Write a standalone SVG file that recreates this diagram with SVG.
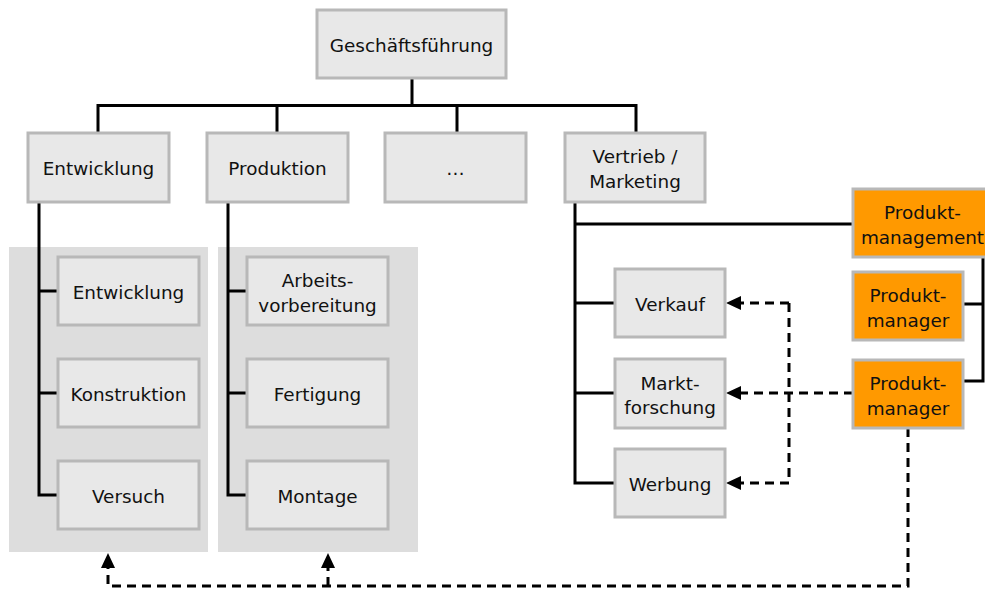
<svg xmlns="http://www.w3.org/2000/svg" width="985" height="591" viewBox="0 0 985 591">
  <style>
    .box { fill: #e8e8e8; stroke: #b8b8b8; stroke-width: 3; }
    .hot { fill: #ff9900; stroke: #b8b8b8; stroke-width: 3; }
    .panel { fill: #dddddd; }
    .lbl { font-family: "DejaVu Sans", Verdana, sans-serif; font-size: 18.4px; fill: #111; text-anchor: middle; }
    .solid { fill: none; stroke: #000; stroke-width: 3; }
    .dash { fill: none; stroke: #000; stroke-width: 3; stroke-dasharray: 9 6; }
  </style>
  <defs>
    <marker id="tri" viewBox="0 0 15 14" refX="0" refY="7" markerWidth="15" markerHeight="14" markerUnits="userSpaceOnUse" orient="auto">
      <path d="M0,0 L15,7 L0,14 Z" fill="#000"/>
    </marker>
  </defs>

  <rect width="985" height="591" fill="#fff"/>

  <!-- background panels behind department sub-units -->
  <rect class="panel" x="9" y="247" width="199" height="305"/>
  <rect class="panel" x="218" y="247" width="200" height="305"/>

  <!-- connectors -->
  <g id="connectors">
    <path class="solid" d="M412,78 V105.5 M98,133 V105.5 H636 V133 M277,105.5 V133 M457,105.5 V133"/>
    <path class="solid" d="M39,202 V495 H58 M39,291 H58 M39,393 H58"/>
    <path class="solid" d="M228,202 V495 H247 M228,291 H247 M228,393 H247"/>
    <path class="solid" d="M575,201 V483 H615 M575,224 H853 M575,303 H615 M575,393 H615"/>
    <path class="solid" d="M983,257 V381 H963 M983,304 H963"/>
    <path class="dash" d="M853,393 H741" marker-end="url(#tri)"/>
    <path class="dash" d="M789,303 V483"/>
    <path class="dash" d="M789,303 H741" marker-end="url(#tri)"/>
    <path class="dash" d="M789,483 H741" marker-end="url(#tri)"/>
    <path class="dash" d="M908,428 V586 H108 V568" marker-end="url(#tri)"/>
    <path class="dash" d="M328,586 V568" marker-end="url(#tri)"/>
  </g>

  <g id="geschaeftsfuehrung">
    <rect class="box" x="317" y="10" width="189" height="68"/>
    <text class="lbl" x="411.5" y="52">Geschäftsführung</text>
  </g>

  <g id="entwicklung">
    <rect class="box" x="28" y="133" width="141" height="69"/>
    <text class="lbl" x="98.5" y="175">Entwicklung</text>
  </g>
  <g id="produktion">
    <rect class="box" x="207" y="133" width="141" height="69"/>
    <text class="lbl" x="277.5" y="175">Produktion</text>
  </g>
  <g id="weitere">
    <rect class="box" x="385" y="133" width="141" height="69"/>
    <text class="lbl" x="455.5" y="175">…</text>
  </g>
  <g id="vertrieb">
    <rect class="box" x="565" y="133" width="140" height="69"/>
    <text class="lbl" x="635" y="163">Vertrieb /</text>
    <text class="lbl" x="635" y="188">Marketing</text>
  </g>

  <g id="ew-entwicklung">
    <rect class="box" x="58" y="257" width="141" height="68"/>
    <text class="lbl" x="128.5" y="299">Entwicklung</text>
  </g>
  <g id="ew-konstruktion">
    <rect class="box" x="58" y="359" width="141" height="68"/>
    <text class="lbl" x="128.5" y="401">Konstruktion</text>
  </g>
  <g id="ew-versuch">
    <rect class="box" x="58" y="461" width="141" height="68"/>
    <text class="lbl" x="128.5" y="503">Versuch</text>
  </g>

  <g id="pr-arbeitsvorbereitung">
    <rect class="box" x="247" y="257" width="141" height="68"/>
    <text class="lbl" x="317.5" y="287">Arbeits-</text>
    <text class="lbl" x="317.5" y="312">vorbereitung</text>
  </g>
  <g id="pr-fertigung">
    <rect class="box" x="247" y="359" width="141" height="68"/>
    <text class="lbl" x="317.5" y="401">Fertigung</text>
  </g>
  <g id="pr-montage">
    <rect class="box" x="247" y="461" width="141" height="68"/>
    <text class="lbl" x="317.5" y="503">Montage</text>
  </g>

  <g id="verkauf">
    <rect class="box" x="615" y="269" width="110" height="68"/>
    <text class="lbl" x="670" y="311">Verkauf</text>
  </g>
  <g id="marktforschung">
    <rect class="box" x="615" y="359" width="110" height="69"/>
    <text class="lbl" x="670" y="390">Markt-</text>
    <text class="lbl" x="670" y="414">forschung</text>
  </g>
  <g id="werbung">
    <rect class="box" x="615" y="449" width="110" height="68"/>
    <text class="lbl" x="670" y="491">Werbung</text>
  </g>

  <g id="produktmanagement">
    <rect class="hot" x="853" y="189" width="139" height="68"/>
    <text class="lbl" x="922.5" y="219">Produkt-</text>
    <text class="lbl" x="922.5" y="244">management</text>
  </g>
  <g id="produktmanager-1">
    <rect class="hot" x="853" y="272" width="110" height="68"/>
    <text class="lbl" x="908" y="302">Produkt-</text>
    <text class="lbl" x="908" y="327">manager</text>
  </g>
  <g id="produktmanager-2">
    <rect class="hot" x="853" y="360" width="110" height="68"/>
    <text class="lbl" x="908" y="390">Produkt-</text>
    <text class="lbl" x="908" y="415">manager</text>
  </g>
</svg>
